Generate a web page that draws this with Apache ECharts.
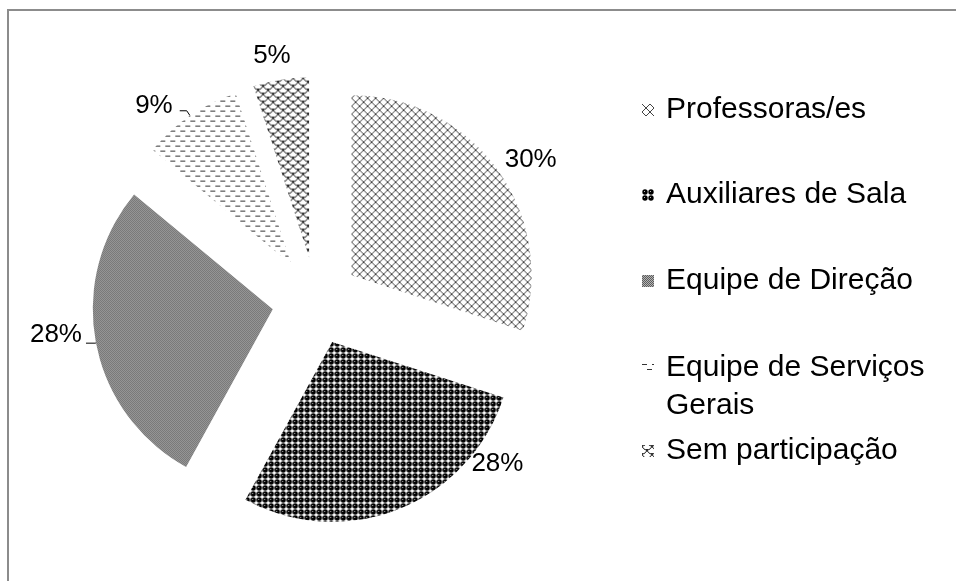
<!DOCTYPE html>
<html>
<head>
<meta charset="utf-8">
<title>Participação</title>
<script src="https://cdn.jsdelivr.net/npm/echarts@6/dist/echarts.min.js"></script>
<style>
    html, body { margin: 0; padding: 0; background: #fff; }
    #chart { width: 956px; height: 581px; position: relative; }
    #frame {
        position: absolute; left: 7px; top: 9px; width: 1000px; height: 700px;
        border: 2px solid #8c8c8c; box-sizing: border-box; pointer-events: none;
    }
</style>
</head>
<body>
<div id="chart"></div>
<div id="frame"></div>
<script>
// dados
const categories = ["Professoras/es", "Auxiliares de Sala", "Equipe de Direção", "Equipe de Serviços Gerais", "Sem participação"];
const values = [30, 28, 28, 9, 5];

// ajuste fino dos rótulos (estilo)
const labelNudge = [[-9, -5], [60, -53], null, null, [21, -16]];
const lineLen = [[8, 6], [8, 6], [1, 9], [6, 7], [8, 6]];
const showLine = [false, false, true, true, false];
const labelLift = [0, 0, 16, 9, 0]; // sobe o texto acima da linha guia
const labelDist = [4, 4, 4, 7, 4];
// posição vertical de cada linha da legenda
const legendTop = [91, 176, 262, 349, 432];

const FONT = "'Liberation Sans', Arial, sans-serif";

// texturas
function makePattern(w, h, draw) {
    const c = document.createElement("canvas");
    c.width = w;
    c.height = h;
    const ctx = c.getContext("2d");
    ctx.fillStyle = "#fff";
    ctx.fillRect(0, 0, w, h);
    draw(ctx);
    return { image: c, repeat: "repeat" };
}

function halfArc(ctx, x, y, r) {
    ctx.beginPath();
    ctx.arc(x, y, r, 0, Math.PI);
    ctx.stroke();
}

const patterns = [
    // xadrez diagonal
    makePattern(8, 8, (ctx) => {
        ctx.strokeStyle = "#444";
        ctx.lineWidth = 1;
        ctx.beginPath();
        ctx.moveTo(0, 0); ctx.lineTo(8, 8);
        ctx.moveTo(8, 0); ctx.lineTo(0, 8);
        ctx.stroke();
    }),
    // bolinhas pretas
    makePattern(6, 6, (ctx) => {
        ctx.fillStyle = "#000";
        ctx.beginPath();
        ctx.arc(3, 3, 2.7, 0, Math.PI * 2);
        ctx.fill();
        ctx.fillStyle = "#bbb";
        ctx.fillRect(2, 2, 1, 1);
    }),
    // cinza pontilhado
    makePattern(2, 2, (ctx) => {
        ctx.fillStyle = "#5c5c5c";
        ctx.fillRect(0, 0, 2, 2);
        ctx.fillStyle = "#b4b4b4";
        ctx.fillRect(0, 0, 1, 1);
        ctx.fillRect(1, 1, 1, 1);
    }),
    // tracejado horizontal
    makePattern(10, 10, (ctx) => {
        ctx.fillStyle = "#333";
        ctx.fillRect(0, 2, 5, 1);
        ctx.fillRect(5, 7, 5, 1);
    }),
    // escamas
    makePattern(10, 8, (ctx) => {
        ctx.strokeStyle = "#111";
        ctx.lineWidth = 1;
        halfArc(ctx, 5, 0, 5);
        halfArc(ctx, 5, 8, 5);
        halfArc(ctx, 0, 4, 5);
        halfArc(ctx, 10, 4, 5);
        halfArc(ctx, 0, -4, 5);
        halfArc(ctx, 10, -4, 5);
    }),
];

const chart = echarts.init(document.getElementById("chart"));

const legendText = {
    fontFamily: FONT,
    fontSize: 30,
    lineHeight: 38,
    color: "#000",
    width: 285,
    overflow: "break",
    padding: [0, 0, 0, 7],
};

// uma legenda por linha, para alinhar como no original;
// o item de duas linhas usa um ícone alto com o quadrado no topo
const legends = categories.map((name, i) => {
    const twoLines = i === 3;
    return {
        data: [twoLines ? { name, icon: "path://M0,0H10V10H0Z M0,41.667H10" } : name],
        orient: "vertical",
        left: 642,
        top: legendTop[i],
        padding: 0,
        itemWidth: 12,
        itemHeight: twoLines ? 50 : 12,
        icon: "rect",
        selectedMode: false,
        textStyle: legendText,
    };
});

const option = {
    animation: false,
    legend: legends,
    series: [
        {
            type: "pie",
            center: [316, 301],
            radius: [0, 180],
            startAngle: 90,
            clockwise: true,
            selectedMode: "multiple",
            selectedOffset: 44,
            avoidLabelOverlap: false,
            emphasis: { disabled: true },
            label: {
                show: true,
                position: "outside",
                fontFamily: FONT,
                fontSize: 26,
                color: "#000",
            },
            labelLine: {
                lineStyle: { color: "#000", width: 1 },
            },
            labelLayout: (params) => {
                const n = labelNudge[params.dataIndex];
                return n ? { dx: n[0], dy: n[1] } : {};
            },
            data: categories.map((name, i) => ({
                name,
                value: values[i],
                selected: true,
                itemStyle: { color: patterns[i] },
                label: labelLift[i]
                    ? {
                          formatter: "{c}%\n{s| }",
                          rich: { s: { fontSize: 1, lineHeight: labelLift[i] } },
                          distanceToLabelLine: labelDist[i],
                      }
                    : { formatter: "{c}%", distanceToLabelLine: labelDist[i] },
                labelLine: { show: showLine[i], length: lineLen[i][0], length2: lineLen[i][1] },
            })),
        },
    ],
};

chart.setOption(option);
</script>
</body>
</html>
